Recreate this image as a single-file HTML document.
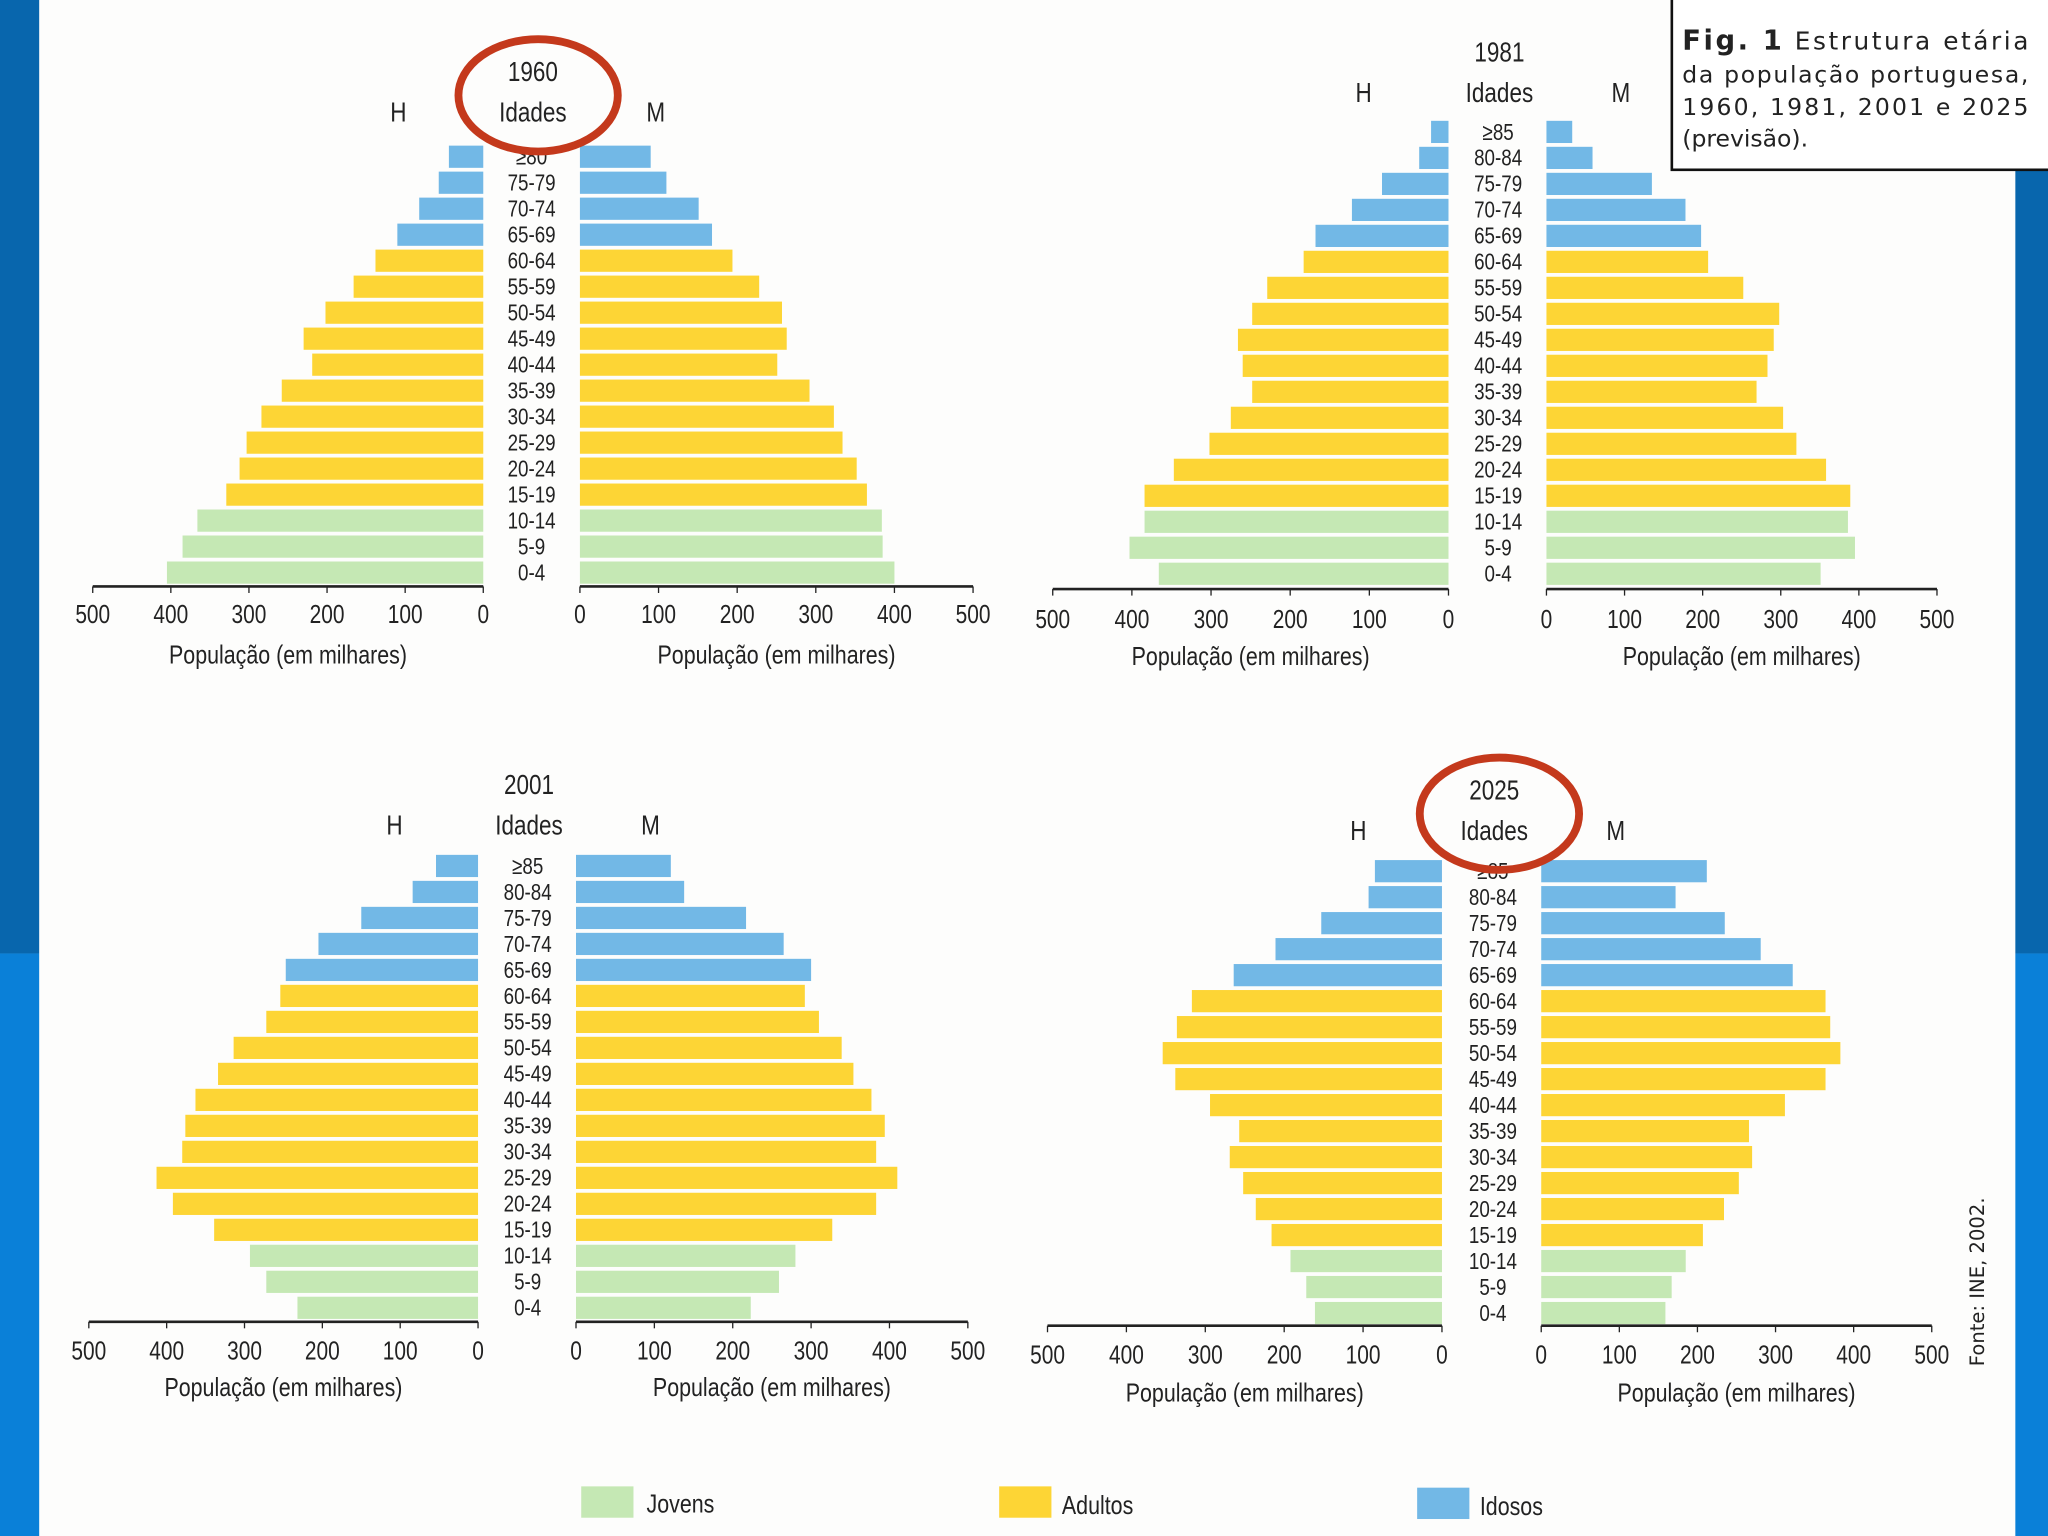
<!DOCTYPE html>
<html><head><meta charset="utf-8"><style>
html,body{margin:0;padding:0;background:#fff}
svg{display:block}
text{font-family:"Liberation Sans Narrow","Liberation Sans",sans-serif;fill:#222}
</style></head><body>
<svg id="root" width="2048" height="1536" viewBox="0 0 1568 1176" xmlns="http://www.w3.org/2000/svg">
<rect x="0" y="0" width="1568" height="1176" fill="#fdfdfc"/>
<rect x="0" y="0" width="30" height="730" fill="#0866ad"/>
<rect x="0" y="730" width="30" height="446" fill="#0a80d8"/>
<rect x="1543" y="130" width="25" height="600" fill="#0866ad"/>
<rect x="1543" y="730" width="25" height="446" fill="#0a80d8"/>
<g>
<rect x="1280" y="-2" width="290" height="132" fill="#fff" stroke="#111" stroke-width="2"/>
<text x="1288" y="38" font-size="19" textLength="265" lengthAdjust="spacing" style="font-family:'DejaVu Sans',sans-serif"><tspan font-weight="bold" font-size="21">Fig. 1</tspan> Estrutura etária</text>
<text x="1288" y="63" font-size="18" textLength="265" lengthAdjust="spacing" style="font-family:'DejaVu Sans',sans-serif">da população portuguesa,</text>
<text x="1288" y="88" font-size="18" textLength="265" lengthAdjust="spacing" style="font-family:'DejaVu Sans',sans-serif">1960, 1981, 2001 e 2025</text>
<text x="1288" y="112" font-size="18" style="font-family:'DejaVu Sans',sans-serif">(previsão).</text>
</g>
<text transform="translate(1519,1046) rotate(-90)" font-size="15" style="font-family:'DejaVu Sans',sans-serif">Fonte: INE, 2002.</text>
<g id="charts"></g>
<g>
<g><rect x="445" y="1138" width="40" height="24" fill="#c5e8b4"/><text transform="translate(495,1158) scale(0.82,1)" font-size="20">Jovens</text></g>
<g><rect x="765" y="1138" width="40" height="24" fill="#fdd535"/><text transform="translate(813,1159) scale(0.82,1)" font-size="20">Adultos</text></g>
<g><rect x="1085" y="1139" width="40" height="24" fill="#72b8e6"/><text transform="translate(1133,1160) scale(0.82,1)" font-size="20">Idosos</text></g>
</g>
</svg>
<script>
const ages17 = ["≥80","75-79","70-74","65-69","60-64","55-59","50-54","45-49","40-44","35-39","30-34","25-29","20-24","15-19","10-14","5-9","0-4"];
const ages18 = ["≥85","80-84","75-79","70-74","65-69","60-64","55-59","50-54","45-49","40-44","35-39","30-34","25-29","20-24","15-19","10-14","5-9","0-4"];
const ticks = [0,100,200,300,400,500];
const years = ["1960","1981","2001","2025"];
const h1960 = [44,57,82,110,138,166,202,230,219,258,284,303,312,329,366,385,405];
const m1960 = [90,110,151,168,194,228,257,263,251,292,323,334,352,365,384,385,400];
const h1981 = [22,37,84,122,168,183,229,248,266,260,248,275,302,347,384,384,403,366];
const m1981 = [33,59,135,178,198,207,252,298,291,283,269,303,320,358,389,386,395,351];
const h2001 = [54,84,150,205,247,254,272,314,334,363,376,380,413,392,339,293,272,232];
const m2001 = [121,138,217,265,300,292,310,339,354,377,394,383,410,383,327,280,259,223];
const h2025 = [85,93,153,211,264,317,336,354,338,294,257,269,252,236,216,192,172,161];
const m2025 = [212,172,235,281,322,364,370,383,364,312,266,270,253,234,207,185,167,159];

const NS="http://www.w3.org/2000/svg";
const layouts=[
 {ages:ages17,h:h1960,m:m1960,hz:370,h5:71,mz:444,m5:745,y0:120,ax:449,cx:407,ty:55,iy:86,hx:305,mx:502,tky:470,lby:502,circle:true},
 {ages:ages18,h:h1981,m:m1981,hz:1109,h5:806,mz:1184,m5:1483,y0:101,ax:451,cx:1147,ty:40,iy:71,hx:1044,mx:1241,tky:474,lby:503},
 {ages:ages18,h:h2001,m:m2001,hz:366,h5:68,mz:441,m5:741,y0:663,ax:1012,cx:404,ty:601,iy:632,hx:302,mx:498,tky:1034,lby:1063},
 {ages:ages18,h:h2025,m:m2025,hz:1104,h5:802,mz:1180,m5:1479,y0:667,ax:1015,cx:1143,ty:605,iy:636,hx:1040,mx:1237,tky:1037,lby:1067,circle:true}
];
function mk(tag,attrs,parent){const e=document.createElementNS(NS,tag);for(const k in attrs)e.setAttribute(k,attrs[k]);parent.appendChild(e);return e;}
function txt(parent,x,y,size,str,sx){const t=mk("text",{transform:"translate("+x+","+y+") scale("+(sx||0.82)+",1)","text-anchor":"middle","font-size":size},parent);t.textContent=str;return t;}
function colorFor(age){
  if(age==="0-4"||age==="5-9"||age==="10-14")return "#c5e8b4";
  if(["65-69","70-74","75-79","80-84","≥80","≥85"].includes(age))return "#72b8e6";
  return "#fdd535";
}
const root=document.getElementById("charts");
layouts.forEach((L,ci)=>{
  const g=mk("g",{},root);
  
  
  const pitch=19.9, bh=17;
  const xH=v=>L.hz-(L.hz-L.h5)*v/500;
  const xM=v=>L.mz+(L.m5-L.mz)*v/500;
  const yRow=i=>L.y0+i*pitch;
  L.ages.forEach((a,i)=>{
    const yc=yRow(i);
    const rh=mk("rect",{x:xH(L.h[i]),y:yc-bh/2,width:L.hz-xH(L.h[i]),height:bh,fill:colorFor(a)},g);
    
    
    const rm=mk("rect",{x:L.mz,y:yc-bh/2,width:xM(L.m[i])-L.mz,height:bh,fill:colorFor(a)},g);
    
    
    const t=txt(g,L.cx,yc+6,18,a,0.8);
    
    
  });
  const a1=mk("line",{x1:L.h5,y1:L.ax,x2:L.hz,y2:L.ax,stroke:"#222","stroke-width":2},g);
  
  
  const a2=mk("line",{x1:L.mz,y1:L.ax,x2:L.m5,y2:L.ax,stroke:"#222","stroke-width":2},g);
  
  
  ticks.forEach(v=>{
    [[xH(v)],[xM(v)]].forEach(([x])=>{
      mk("line",{x1:x,y1:L.ax,x2:x,y2:L.ax+5,stroke:"#222","stroke-width":1},g);
      const t=txt(g,x,L.tky+7,20,String(v),0.8);
      
      
    });
  });
  [[(L.hz+L.h5)/2],[(L.mz+L.m5)/2]].forEach(([x])=>{
    const t=txt(g,x,L.lby+6,20,"População (em milhares)",0.82);
    
    
  });
  const ty=txt(g,L.cx+1,L.ty+7,21,years[ci],0.82);
  
  
  const id=txt(g,L.cx+1,L.iy+7,21,"Idades",0.82);
  
  
  const th=txt(g,L.hx,L.iy+7,21,"H",0.82);
  
  
  const tm=txt(g,L.mx,L.iy+7,21,"M",0.82);
  
  
  if(L.circle){
    const c=mk("ellipse",{cx:L.cx+5,cy:L.ty+18,rx:61,ry:43,fill:"none",stroke:"#c4391c","stroke-width":6},g);
    
    
  }
});
</script>
</body></html>
